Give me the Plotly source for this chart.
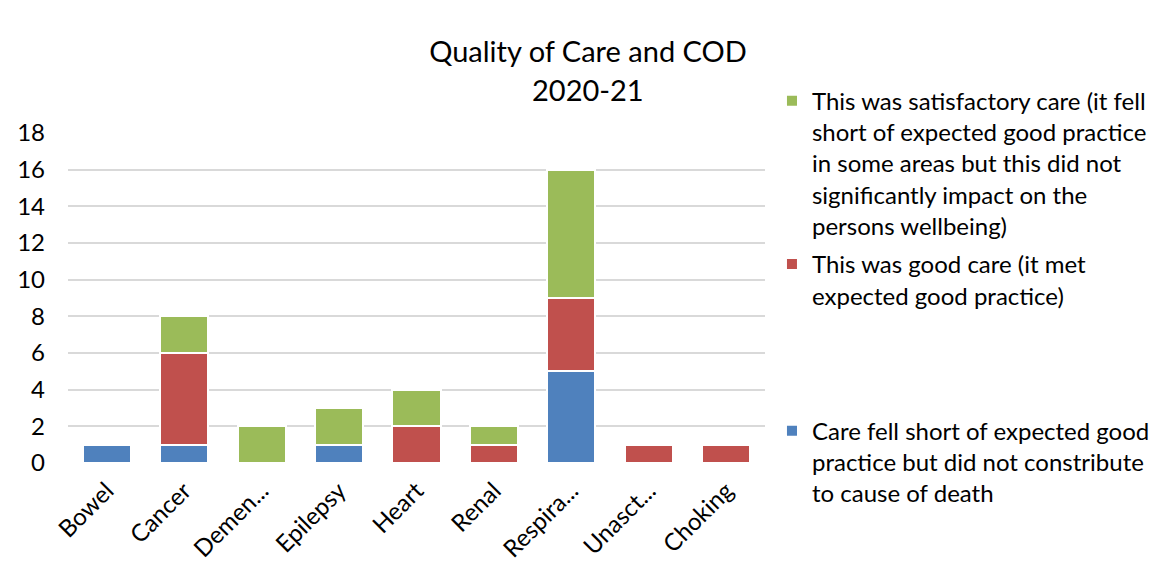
import plotly.graph_objects as go

# Causes of death (category axis)
categories = ["Bowel", "Cancer", "Demen...", "Epilepsy", "Heart", "Renal",
              "Respira...", "Unasct...", "Choking"]

# Counts per quality-of-care judgement
fell_short = [1, 1, 0, 1, 0, 0, 5, 0, 0]
good_care = [0, 5, 0, 0, 2, 1, 4, 1, 1]
satisfactory = [0, 2, 2, 2, 2, 1, 7, 0, 0]

name_fell_short = ("Care fell short of expected good<br>practice but did not constribute<br>"
                   "to cause of death")
name_good = "This was good care (it met<br>expected good practice)"
name_satisfactory = ("This was satisfactory care (it fell<br>short of expected good practice<br>"
                     "in some areas but this did not<br>significantly impact on the<br>"
                     "persons wellbeing)")

title_main = "Quality of Care and COD"
title_period = "2020-21"

y_ticks = [0, 2, 4, 6, 8, 10, 12, 14, 16, 18]

FONT = "Lato, Carlito, Calibri, sans-serif"
BLUE, RED, GREEN = "#4F81BD", "#C0504D", "#9BBB59"

fig = go.Figure()
fig.add_trace(go.Bar(x=categories, y=fell_short, name=name_fell_short,
                     marker=dict(color=BLUE, line=dict(color="white", width=2)),
                     legend="legend3"))
fig.add_trace(go.Bar(x=categories, y=good_care, name=name_good,
                     marker=dict(color=RED, line=dict(color="white", width=2)),
                     legend="legend2"))
fig.add_trace(go.Bar(x=categories, y=satisfactory, name=name_satisfactory,
                     marker=dict(color=GREEN, line=dict(color="white", width=2)),
                     legend="legend4"))

legend_common = dict(font=dict(family=FONT, size=24, color="#000000"),
                     bgcolor="rgba(0,0,0,0)", xanchor="left", yanchor="top",
                     itemsizing="constant", itemwidth=30, tracegroupgap=0,
                     valign="top", visible=True)

fig.update_layout(
    width=1167, height=572,
    margin=dict(l=68, r=402, t=133, b=109, autoexpand=False),
    paper_bgcolor="white", plot_bgcolor="white",
    barmode="stack", bargap=0.38, showlegend=True,
    title=dict(text=title_main, x=588 / 1167, xanchor="center",
               y=1 - 52 / 572, yanchor="middle",
               font=dict(family=FONT, size=29, color="#000000")),
    font=dict(family=FONT, color="#000000"),
    legend4=dict(x=1.01, y=1.165, **legend_common),
    legend2=dict(x=1.01, y=0.67, **legend_common),
    legend3=dict(x=1.01, y=0.165, **legend_common),
    xaxis=dict(showgrid=False, showline=False, ticks="", tickangle=-45, automargin=False,
               tickfont=dict(family=FONT, size=24, color="#000000"), ticklabelstandoff=8),
    yaxis=dict(range=[0, 18], tickvals=y_ticks, showgrid=True, gridcolor="#D9D9D9",
               gridwidth=2, zeroline=False, showline=False, ticks="", automargin=False,
               tickfont=dict(family=FONT, size=24, color="#000000"), ticklabelstandoff=22),
)

# second title line (reporting period)
fig.add_annotation(text=title_period, xref="paper", yref="paper",
                   x=(588 - 68) / 697, y=(463 - 90) / 330, xanchor="center", yanchor="middle",
                   showarrow=False, font=dict(family=FONT, size=29, color="#000000"))

fig.write_html("out.html")
